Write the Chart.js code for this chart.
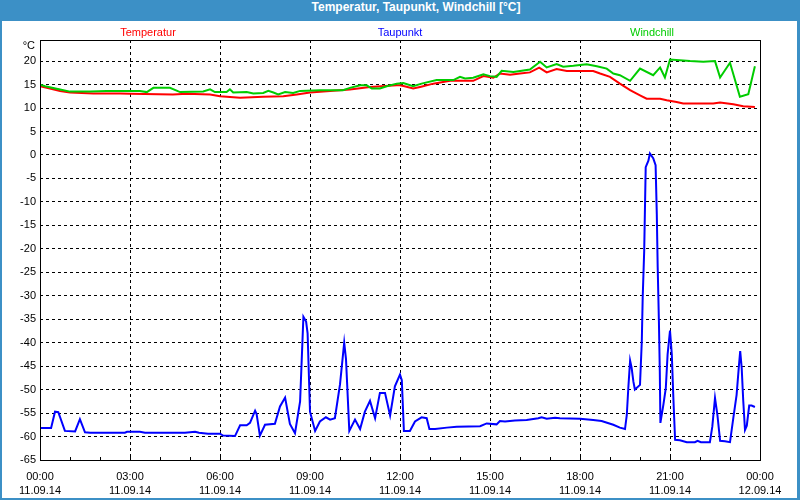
<!DOCTYPE html>
<html lang="de">
<head>
<meta charset="UTF-8" />
<title>Temperatur, Taupunkt, Windchill</title>
<script src="https://cdn.jsdelivr.net/npm/chart.js@4.4.0/dist/chart.umd.min.js"></script>
<style>
  body { margin: 0; width: 800px; height: 500px; background: #3c90c6; position: relative; overflow: hidden; }
  #title { position: absolute; left: 0; top: 0; width: 800px; height: 21px; line-height: 21px;
           padding-left: 32px; box-sizing: border-box; text-align: center; color: #fff;
           font: bold 12px "Liberation Sans Narrow", "Liberation Sans", sans-serif; }
  #box { position: absolute; left: 2px; top: 21px; width: 795px; height: 477px; background: #fff; }
</style>
</head>
<body>
<div id="title">Temperatur, Taupunkt, Windchill [°C]</div>
<div id="box"><canvas id="wetter" width="795" height="477"></canvas></div>

<script>
// x-Achse: Stunden seit 11.09.14 00:00
const tickTimes = ['00:00', '03:00', '06:00', '09:00', '12:00', '15:00', '18:00', '21:00', '00:00'];
const tickDates = ['11.09.14', '11.09.14', '11.09.14', '11.09.14', '11.09.14', '11.09.14', '11.09.14', '11.09.14', '12.09.14'];

const tempHours = [0, 0.33, 0.67, 1.0, 1.78, 2.67, 3.0, 4.43, 4.89, 5.67, 6.0, 6.67, 7.44, 8.11, 8.56, 9.0, 9.67, 10.33, 11.0, 11.89,
  12.0, 12.15, 12.44, 12.67, 13.11, 13.67, 14.44, 14.78, 15.11, 15.33, 15.67, 16.0, 16.33, 16.64, 16.89, 17.22, 17.56, 18.44,
  18.67, 19.0, 19.33, 19.67, 20.0, 20.22, 20.67, 20.89, 21.22, 21.44, 22.44, 22.67, 23.11, 23.44, 23.83];
const tempValues = [14.65, 14.15, 13.65, 13.3, 13.1, 13.1, 13.05, 12.9, 13.05, 12.9, 12.5, 12.2, 12.4, 12.5, 12.9, 13.3, 13.65, 13.95, 14.5, 14.85,
  14.85, 14.65, 14.15, 14.5, 15.2, 15.8, 15.8, 16.8, 16.45, 17.35, 17.1, 17.35, 17.6, 18.6, 17.6, 18.3, 17.9, 17.9,
  17.35, 16.65, 15.2, 13.8, 12.7, 12.0, 12.0, 11.65, 11.3, 10.95, 10.95, 11.2, 10.8, 10.4, 10.2];

const dewHours = [0, 0.37, 0.5, 0.61, 0.83, 1.17, 1.33, 1.5, 1.67, 2.83, 2.9, 3.33, 3.5, 4.83, 5.17, 5.3, 5.6, 6.0, 6.1, 6.5,
  6.67, 6.89, 7.0, 7.17, 7.22, 7.33, 7.5, 7.83, 8.0, 8.17, 8.33, 8.5, 8.67, 8.78, 8.87, 8.92, 9.0, 9.17, 9.33, 9.53,
  9.67, 9.83, 10.0, 10.14, 10.2, 10.31, 10.5, 10.67, 10.83, 11.0, 11.17, 11.33, 11.5, 11.67, 11.83, 12.0, 12.06, 12.13,
  12.33, 12.5, 12.72, 12.89, 12.98, 13.17, 13.56, 13.89, 14.67, 14.89, 15.22, 15.33, 15.5, 15.83, 16.22, 16.61, 16.72,
  16.89, 17.17, 17.33, 18.0, 18.44, 18.72, 19.11, 19.33, 19.5, 19.56, 19.61, 19.67, 19.72, 19.78, 19.83, 20.0, 20.06,
  20.09, 20.14, 20.19, 20.28, 20.33, 20.44, 20.52, 20.56, 20.59, 20.63, 20.66, 20.68, 20.78, 20.86, 20.92, 21.0, 21.06,
  21.11, 21.14, 21.17, 21.33, 21.56, 21.83, 21.92, 22.03, 22.33, 22.41, 22.5, 22.58, 22.67, 22.83, 23.0, 23.11, 23.22,
  23.3, 23.34, 23.39, 23.44, 23.5, 23.56, 23.64, 23.72, 23.83];
const dewValues = [-58.2, -58.2, -54.7, -54.8, -58.8, -58.9, -56.3, -59.1, -59.2, -59.2, -59.0, -59.0, -59.2, -59.2, -59.0, -59.2, -59.4, -59.4, -59.8, -59.9,
  -57.6, -57.6, -57.1, -54.5, -55.2, -59.8, -57.5, -57.3, -53.6, -51.7, -57.3, -59.3, -52.5, -34.5, -35.5, -38, -54.7, -58.8, -56.8, -55.9,
  -56.4, -56.1, -48.9, -40.0, -43.5, -58.8, -56.4, -58.4, -54.7, -52.4, -56.1, -50.7, -50.7, -55.5, -49.3, -46.8, -48, -58.8,
  -58.8, -56.8, -55.9, -56.1, -58.4, -58.4, -58.1, -57.9, -57.8, -57.2, -57.4, -56.7, -56.8, -56.6, -56.5, -56.1, -55.9,
  -56.2, -56.0, -56.1, -56.2, -56.5, -56.7, -57.5, -58.1, -58.4, -55.4, -49.7, -43.8, -45.3, -48.3, -50.0, -49.0, -39.7,
  -30.3, -20.4, -2.6, -1.2, 0.3, -0.7, -2.2, -12.6, -24.0, -35.4, -46.1, -57.1, -53.2, -49.7, -42.5, -37.4, -42.5,
  -51.4, -56.1, -60.7, -60.8, -61.2, -61.2, -60.9, -61.2, -61.2, -57.9, -51.8, -55.4, -60.9, -61.0, -61.2, -56.1, -51.1,
  -44.7, -41.8, -45.4, -52.2, -58.6, -57.7, -53.4, -53.4, -53.7];

const chillHours = [0, 0.17, 0.67, 1.0, 1.67, 2.22, 3.0, 3.33, 3.56, 3.78, 4.33, 4.67, 5.44, 5.67, 5.83, 6.22, 6.33, 6.44, 6.89, 7.11,
  7.44, 7.61, 7.78, 7.94, 8.17, 8.44, 8.67, 9.33, 10.1, 10.33, 10.67, 10.89, 11.06, 11.33, 11.56, 11.89, 12.11, 12.44,
  12.72, 13.22, 13.78, 14.0, 14.17, 14.44, 14.78, 15.0, 15.22, 15.39, 15.78, 16.33, 16.67, 16.89, 17.22, 17.44, 17.78,
  18.22, 18.56, 18.89, 19.11, 19.33, 19.67, 20.0, 20.44, 20.67, 20.83, 21.0, 21.67, 22.11, 22.5, 22.67, 23.0, 23.33, 23.61, 23.83];
const chillValues = [15.0, 14.65, 13.95, 13.5, 13.55, 13.65, 13.65, 13.65, 13.4, 14.3, 14.3, 13.4, 13.55, 14.0, 13.4, 13.4, 14.0, 13.3, 13.4, 13.1,
  13.2, 13.65, 13.3, 12.9, 13.4, 13.2, 13.65, 13.8, 13.8, 14.3, 14.85, 14.85, 14.15, 14.15, 14.65, 15.2, 15.35, 14.65,
  15.2, 15.95, 15.95, 16.65, 16.3, 16.45, 17.2, 16.8, 16.65, 17.95, 17.7, 18.2, 19.85, 18.65, 19.35, 18.8, 19.0,
  19.35, 18.9, 18.4, 17.35, 17.0, 15.8, 18.4, 17.0, 18.65, 16.5, 20.35, 20.0, 19.85, 20.0, 16.5, 19.65, 12.4, 12.95, 18.9];

const toPoints = (xs, ys) => xs.map((x, i) => ({ x: x, y: ys[i] }));
const FONT = '"Liberation Sans", Arial, sans-serif';

// Legende als Text über dem Diagramm, Rahmen, Stundenstriche
const framePlugin = {
  id: 'frame',
  afterDatasetsDraw(chart) {
    const { ctx, chartArea: a, scales } = chart;
    ctx.save();
    ctx.strokeStyle = '#000';
    ctx.lineWidth = 1;
    ctx.strokeRect(Math.round(a.left) + 0.5, Math.round(a.top) + 0.5, Math.round(a.right - a.left), Math.round(a.bottom - a.top));
    ctx.beginPath();
    for (let h = 1; h < 24; h++) {
      const px = Math.round(scales.x.getPixelForValue(h)) + 0.5;
      ctx.moveTo(px, a.bottom);
      ctx.lineTo(px, a.bottom - 3);
    }
    ctx.stroke();

    ctx.font = '11px ' + FONT;
    ctx.textBaseline = 'middle';
    ctx.textAlign = 'center';
    const spots = [0.15, 0.5, 0.85];
    chart.data.datasets.forEach((ds, i) => {
      ctx.fillStyle = ds.borderColor;
      ctx.fillText(ds.label, a.left + spots[i] * (a.right - a.left), 12);
    });
    ctx.fillStyle = '#000';
    ctx.textAlign = 'right';
    ctx.fillText('°C', a.left - 5, 25);
    ctx.restore();
  }
};

new Chart(document.getElementById('wetter'), {
  type: 'line',
  data: {
    datasets: [
      { label: 'Temperatur', data: toPoints(tempHours, tempValues), borderColor: '#ff0000', order: 1 },
      { label: 'Taupunkt', data: toPoints(dewHours, dewValues), borderColor: '#0000ff', order: 2 },
      { label: 'Windchill', data: toPoints(chillHours, chillValues), borderColor: '#00cc00', order: 0 }
    ]
  },
  options: {
    responsive: false,
    animation: false,
    events: [],
    layout: { padding: { left: 0, right: 37, top: 19, bottom: 0 } },
    elements: {
      line: { borderWidth: 2, tension: 0, fill: false },
      point: { radius: 0 }
    },
    plugins: {
      legend: { display: false },
      title: { display: false },
      tooltip: { enabled: false }
    },
    scales: {
      x: {
        type: 'linear',
        min: 0,
        max: 24,
        afterFit: (s) => { s.height = 38; },
        afterBuildTicks: (s) => { s.ticks = tickTimes.map((t, i) => ({ value: i * 3 })); },
        grid: { color: '#000', lineWidth: 1, drawTicks: false, borderDash: [3, 3] },
        border: { display: false, dash: [3, 3] },
        ticks: {
          padding: 9,
          maxRotation: 0,
          autoSkip: false,
          color: '#000',
          font: { family: FONT, size: 11, lineHeight: 1.36 },
          callback: (v) => [tickTimes[v / 3], tickDates[v / 3]]
        }
      },
      y: {
        min: -65,
        max: 24.5,
        afterFit: (s) => { s.width = 38; },
        afterBuildTicks: (s) => {
          const t = [];
          for (let v = -65; v <= 20; v += 5) t.push({ value: v });
          s.ticks = t;
        },
        grid: { color: '#000', lineWidth: 1, drawTicks: false, borderDash: [3, 3] },
        border: { display: false, dash: [3, 3] },
        ticks: {
          padding: 4,
          color: '#000',
          font: { family: FONT, size: 11 }
        }
      }
    }
  },
  plugins: [framePlugin]
});
</script>
</body>
</html>
